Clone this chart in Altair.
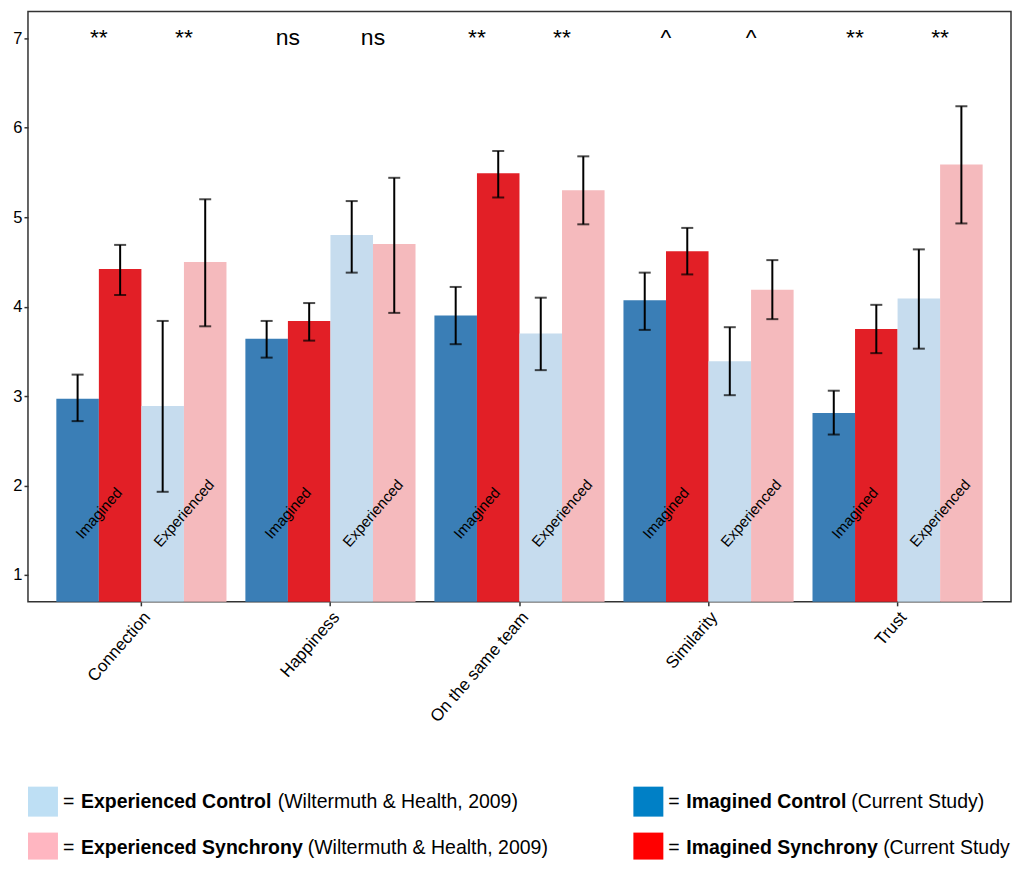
import math
import altair as alt
import pandas as pd

FONT = "Liberation Sans"

categories = ["Connection", "Happiness", "On the same team", "Similarity", "Trust"]
series = ["Imagined Control", "Imagined Synchrony", "Experienced Control", "Experienced Synchrony"]
bar_colors = ["#3A7EB6", "#E21F26", "#C6DCEE", "#F5BABD"]

imag_ctrl = [2.97, 3.64, 3.90, 4.07, 2.81]
imag_ctrl_lo = [2.72, 3.43, 3.58, 3.74, 2.57]
imag_ctrl_hi = [3.24, 3.84, 4.22, 4.38, 3.06]

imag_sync = [4.42, 3.84, 5.49, 4.62, 3.75]
imag_sync_lo = [4.13, 3.62, 5.22, 4.36, 3.48]
imag_sync_hi = [4.69, 4.04, 5.74, 4.88, 4.02]

exp_ctrl = [2.89, 4.80, 3.70, 3.39, 4.09]
exp_ctrl_lo = [1.93, 4.38, 3.29, 3.01, 3.53]
exp_ctrl_hi = [3.84, 5.18, 4.10, 3.77, 4.64]

exp_sync = [4.50, 4.70, 5.30, 4.19, 5.59]
exp_sync_lo = [3.78, 3.93, 4.92, 3.86, 4.93]
exp_sync_hi = [5.20, 5.44, 5.68, 4.52, 6.24]

groups = ["Imagined", "Experienced"]
sig_imagined = ["**", "ns", "**", "^", "**"]
sig_experienced = ["**", "ns", "**", "^", "**"]

y_ticks = [1, 2, 3, 4, 5, 6, 7]

legend_bold = ["Experienced Control", "Experienced Synchrony", "Imagined Control", "Imagined Synchrony"]
# the last entry is cut at the right edge in the reference
legend_source = ["(Wiltermuth & Health, 2009)", "(Wiltermuth & Health, 2009)",
                 "(Current Study)", "(Current Study"]
legend_colors = ["#BEDFF4", "#FFB6C1", "#0080C6", "#FF0000"]

# ---------------- main data -----------------
rows = []
for s, m, lo, hi in [
    (series[0], imag_ctrl, imag_ctrl_lo, imag_ctrl_hi),
    (series[1], imag_sync, imag_sync_lo, imag_sync_hi),
    (series[2], exp_ctrl, exp_ctrl_lo, exp_ctrl_hi),
    (series[3], exp_sync, exp_sync_lo, exp_sync_hi),
]:
    for c, v, l, h in zip(categories, m, lo, hi):
        rows.append(dict(category=c, series=s, mean=v, lo=l, hi=h))
df = pd.DataFrame(rows)

# labels sit between the two bars of each pair: anchor on the 2nd bar of the pair
lab_rows = []
for i, c in enumerate(categories):
    lab_rows.append(dict(category=c, group="Imagined", anchor=series[1], sig=sig_imagined[i]))
    lab_rows.append(dict(category=c, group="Experienced", anchor=series[3], sig=sig_experienced[i]))
df_lab = pd.DataFrame(lab_rows)

W, H = 984, 591
BAR_W = W / 5.2 * 0.9 / 4
HALF = BAR_W / 2
ANG = 311  # steep label angle (reference is slightly stretched vertically)

x_enc = alt.X(
    "category:N", sort=categories,
    scale=alt.Scale(paddingInner=0.1, paddingOuter=0.15),
    axis=alt.Axis(title=None, labelAngle=ANG, labelAlign="right", labelBaseline="top",
                  labelFontSize=17, labelFont=FONT, labelColor="black", labelPadding=3,
                  tickColor="#333333", tickSize=4, tickWidth=1.5, domain=False),
)
off_scale = alt.Scale(domain=series, paddingInner=0, paddingOuter=0)
xoff_series = alt.XOffset("series:N", scale=off_scale)
xoff_anchor = alt.XOffset("anchor:N", scale=off_scale)
y_scale = alt.Scale(domain=[0.7, 7.3], nice=False, zero=False)
y_axis = alt.Axis(title=None, values=y_ticks, format="d", grid=False, labelFontSize=16.5,
                  labelFont=FONT, labelColor="black", labelPadding=2, tickColor="#333333",
                  tickSize=4, tickWidth=1.5, domain=False)

bars = alt.Chart(df).mark_bar(clip=True).encode(
    x=x_enc, xOffset=xoff_series,
    y=alt.Y("mean:Q", scale=y_scale, axis=y_axis),
    color=alt.Color("series:N", scale=alt.Scale(domain=series, range=bar_colors), legend=None),
)
err = alt.Chart(df).mark_rule(color="black", strokeWidth=2).encode(
    x=x_enc, xOffset=xoff_series, y=alt.Y("lo:Q", scale=y_scale), y2="hi:Q")
cap_lo = alt.Chart(df).mark_tick(color="black", thickness=2, size=12).encode(
    x=x_enc, xOffset=xoff_series, y=alt.Y("lo:Q", scale=y_scale))
cap_hi = alt.Chart(df).mark_tick(color="black", thickness=2, size=12).encode(
    x=x_enc, xOffset=xoff_series, y=alt.Y("hi:Q", scale=y_scale))

# rotated text: dx/dy act in the rotated frame; shift by -HALF px horizontally on screen
th = math.radians(ANG)
rdx = -HALF * math.cos(th)
rdy = HALF * math.sin(th)
grp_text = alt.Chart(df_lab).mark_text(angle=ANG, fontSize=15, font=FONT, color="black",
                                        align="center", baseline="middle",
                                        dx=rdx, dy=rdy).encode(
    x=x_enc, xOffset=xoff_anchor, y=alt.datum(1.69), text="group:N")
sig_text = alt.Chart(df_lab).mark_text(fontSize=23, font=FONT, color="black",
                                        align="center", baseline="middle", dx=-HALF).encode(
    x=x_enc, xOffset=xoff_anchor, y=alt.datum(7), text="sig:N")

main = alt.layer(bars, err, cap_lo, cap_hi, grp_text, sig_text).properties(
    width=W, height=H, view=alt.ViewBackground(stroke="#333333", strokeWidth=1.5))

# ---------------- legend -----------------
# layout anchors (pixel offsets inside the legend panel, which starts at the plot's left edge)
LH = 72
BOX = 15
leg_col_x = [15, 15, 621, 621]
leg_row_y = [14, 60, 14, 60]
leg_src_x = [250, 280, 824, 856]
leg = pd.DataFrame(dict(bold=legend_bold, source=legend_source, color=legend_colors,
                        bx=leg_col_x, ry=leg_row_y, sx=leg_src_x))
leg["x0"] = leg["bx"] - BOX
leg["x1"] = leg["bx"] + BOX
leg["y0"] = leg["ry"] - BOX
leg["y1"] = (leg["ry"] + BOX).clip(upper=LH)   # lower box is cut by the page edge
leg["eqx"] = leg["bx"] + 20
leg["bdx"] = leg["bx"] + 38
leg["eq"] = "="

lx = alt.Scale(domain=[0, W], nice=False, zero=False)
ly = alt.Scale(domain=[0, LH], nice=False, zero=False, reverse=True)
base = alt.Chart(leg)
X = lambda f: alt.X(f, scale=lx, axis=None)
Y = alt.Y("ry:Q", scale=ly, axis=None)
sq = base.mark_rect(opacity=1).encode(
    x=X("x0:Q"), x2="x1:Q", y=alt.Y("y0:Q", scale=ly, axis=None), y2="y1:Q",
    color=alt.Color("color:N", scale=None))
txt = dict(align="left", baseline="middle", fontSize=19.5, font=FONT, color="black")
eq = base.mark_text(**txt).encode(x=X("eqx:Q"), y=Y, text="eq:N")
bd = base.mark_text(fontWeight="bold", **txt).encode(x=X("bdx:Q"), y=Y, text="bold:N")
sr = base.mark_text(**txt).encode(x=X("sx:Q"), y=Y, text="source:N")
legend = alt.layer(sq, eq, bd, sr).properties(width=W, height=LH,
                                              view=alt.ViewBackground(stroke=None))

chart = alt.vconcat(main, legend, spacing=61).properties(
    padding={"left": 4, "top": 2, "right": 0, "bottom": 0}
).configure(font=FONT)

chart.save("out.html", embed_options={"renderer": "svg", "actions": False})
